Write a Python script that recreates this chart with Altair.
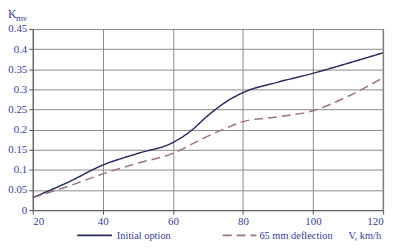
import altair as alt
import pandas as pd

speed = [20, 30, 40, 50, 60, 65, 70, 75, 80, 90, 100, 110, 120]
initial_option = [0.031, 0.069, 0.112, 0.141, 0.168, 0.196, 0.235, 0.268, 0.292, 0.318, 0.34, 0.365, 0.391]
deflection_65mm = [0.031, 0.059, 0.09, 0.117, 0.141, 0.162, 0.184, 0.203, 0.22, 0.232, 0.247, 0.283, 0.329]
series_names = ["Initial option", "65 mm deflection"]
x_ticks = [20, 40, 60, 80, 100, 120]
y_ticks = [0, 0.05, 0.1, 0.15, 0.2, 0.25, 0.3, 0.35, 0.4, 0.45]

rows = []
for s, vals in zip(series_names, [initial_option, deflection_65mm]):
    for v, k in zip(speed, vals):
        rows.append({"V": v, "K": k, "series": s})
df = pd.DataFrame(rows)

W, H = 354, 183
FONT = "Liberation Serif"
TXT = "#3c3c96"

x = alt.X("V:Q", scale=alt.Scale(domain=[20, 120], nice=False),
          axis=alt.Axis(values=x_ticks, title=None, grid=True, gridColor="#8a8a8a",
                        gridWidth=1, domainColor="#555555", tickColor="#555555",
                        tickSize=4, labelFont=FONT, labelFontSize=11, labelColor=TXT,
                        labelPadding=2))
y = alt.Y("K:Q", scale=alt.Scale(domain=[0, 0.45], nice=False),
          axis=alt.Axis(values=y_ticks, title=None, grid=True, gridColor="#8a8a8a",
                        gridWidth=1, domainColor="#555555", tickColor="#555555",
                        tickSize=4, labelFont=FONT, labelFontSize=11, labelColor=TXT,
                        labelPadding=2, labelExpr="datum.value == 0 ? '0' : format(datum.value, '.2~f')"))

lines = alt.Chart(df).mark_line(strokeWidth=1.5, interpolate="monotone").encode(
    x=x, y=y,
    color=alt.Color("series:N", scale=alt.Scale(domain=series_names, range=["#2a2c5c", "#9a7282"]), legend=None),
    strokeDash=alt.StrokeDash("series:N", scale=alt.Scale(domain=series_names, range=[[1, 0], [9, 5]]), legend=None),
)

border = alt.Chart(pd.DataFrame({"a": [0]})).mark_rule(color="#777777", strokeWidth=1).encode(
    x=alt.value(W), y=alt.value(0), y2=alt.value(H))

leg_df = pd.DataFrame({"a": [0]})
leg_solid = alt.Chart(leg_df).mark_rule(color="#2a2c5c", strokeWidth=1.8).encode(
    x=alt.value(45), x2=alt.value(80), y=alt.value(208.5))
leg_dash = alt.Chart(leg_df).mark_rule(color="#9a7282", strokeWidth=1.8, strokeDash=[9, 5]).encode(
    x=alt.value(192), x2=alt.value(226), y=alt.value(208.5))

def label(txt, px, py, size=10.5, align="left"):
    return alt.Chart(leg_df).mark_text(text=txt, font=FONT, fontSize=size, color=TXT,
                                       align=align, baseline="alphabetic").encode(
        x=alt.value(px), y=alt.value(py))

t1 = label(series_names[0], 85, 212)
t2 = label(series_names[1], 229, 212)
t3 = label("V, km/h", 319, 212)
k1 = label("K", -25, -11, size=12)
k2 = label("mv", -17, -8, size=9)

chart = alt.layer(lines, border, leg_solid, leg_dash, t1, t2, t3, k1, k2).properties(
    width=W, height=H,
    autosize=alt.AutoSizeParams(type="none"),
    padding={"left": 25, "top": 20, "right": 10, "bottom": 36},
).configure_view(stroke=None).configure(background="white")

chart.save("out.html", embed_options={"renderer": "svg", "actions": False})
